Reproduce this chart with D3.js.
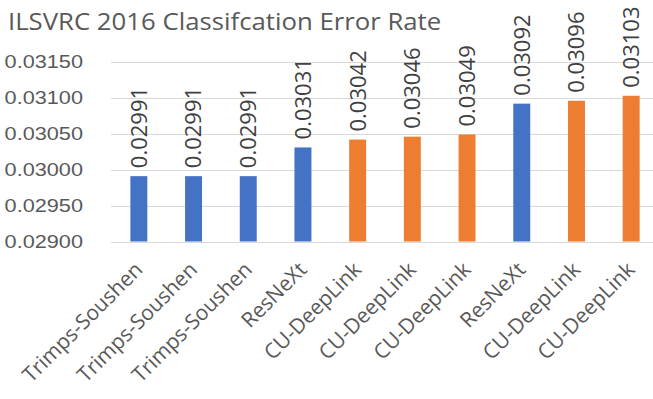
<!DOCTYPE html>
<html>
<head>
<meta charset="utf-8">
<script src="https://cdn.jsdelivr.net/npm/d3@7"></script>
<style>
  body { margin: 0; background: #fff; }
  svg { display: block; font-family: "Open Sans", sans-serif; }
  .title { font-size: 23.3px; fill: #595959; }
  .y-axis text { font-size: 18.7px; fill: #595959; }
  .x-label { font-size: 21px; fill: #595959; }
  .bar-label { font-size: 22px; fill: #404040; }
</style>
</head>
<body>
<svg id="chart" width="653" height="399"></svg>
<script>
const TEAMS = ["Trimps-Soushen", "Trimps-Soushen", "Trimps-Soushen", "ResNeXt", "CU-DeepLink",
               "CU-DeepLink", "CU-DeepLink", "ResNeXt", "CU-DeepLink", "CU-DeepLink"];
const ERROR_RATES = [0.02991, 0.02991, 0.02991, 0.03031, 0.03042, 0.03046, 0.03049, 0.03092, 0.03096, 0.03103];
const Y_TICKS = [0.029, 0.0295, 0.03, 0.0305, 0.031, 0.0315];

const BLUE = "#4472C4";
const ORANGE = "#ED7D31";
const STRETCH = 1.16;   // the tick labels are a bit wider than tall

const svg = d3.select("#chart");

let x = d3.scaleBand()
          .domain(d3.range(TEAMS.length))
          .range([111.5, 658.5])
          .paddingInner(0.69)
          .paddingOuter(0.345);

let y = d3.scaleLinear()
          .domain([0.029, 0.0315])
          .range([241.5, 62]);

// title
svg.append("text")
   .attr("class", "title")
   .attr("transform", "translate(8,30) scale(1.105,1)")
   .text("ILSVRC 2016 Classifcation Error Rate");

// gridlines
svg.append("g")
   .selectAll("line")
   .data(Y_TICKS)
   .enter().append("line")
   .attr("x1", 111)
   .attr("x2", 653)
   .attr("y1", d => Math.round(y(d)) + 0.5)
   .attr("y2", d => Math.round(y(d)) + 0.5)
   .attr("stroke", "#d9d9d9")
   .attr("stroke-width", 1);

// y axis labels
svg.append("g")
   .attr("class", "y-axis")
   .attr("transform", "translate(83,0)")
   .call(d3.axisLeft(y)
           .tickValues(Y_TICKS)
           .tickSize(0)
           .tickPadding(0)
           .tickFormat(d3.format(".5f")))
   .call(g => g.select(".domain").remove())
   .call(g => g.selectAll("text").attr("transform", `scale(${STRETCH},1)`));

// bars
svg.append("g")
   .selectAll("rect")
   .data(ERROR_RATES)
   .enter().append("rect")
   .attr("x", (d, i) => x(i))
   .attr("y", d => y(d))
   .attr("width", x.bandwidth())
   .attr("height", d => y(0.029) - y(d))
   .attr("fill", (d, i) => TEAMS[i] === "CU-DeepLink" ? ORANGE : BLUE);

// value labels
svg.append("g")
   .selectAll("text")
   .data(ERROR_RATES)
   .enter().append("text")
   .attr("class", "bar-label")
   .attr("transform", (d, i) => `translate(${x(i) + x.bandwidth() / 2},${y(d) - 8}) rotate(-90)`)
   .attr("dy", "0.36em")
   .text(d => d3.format(".5f")(d));

// x axis labels
svg.append("g")
   .selectAll("text")
   .data(TEAMS)
   .enter().append("text")
   .attr("class", "x-label")
   .attr("text-anchor", "end")
   .attr("transform", (d, i) => `translate(${x(i) + x.bandwidth() / 2 + 5},271) rotate(-45)`)
   .text(d => d);
</script>
</body>
</html>
